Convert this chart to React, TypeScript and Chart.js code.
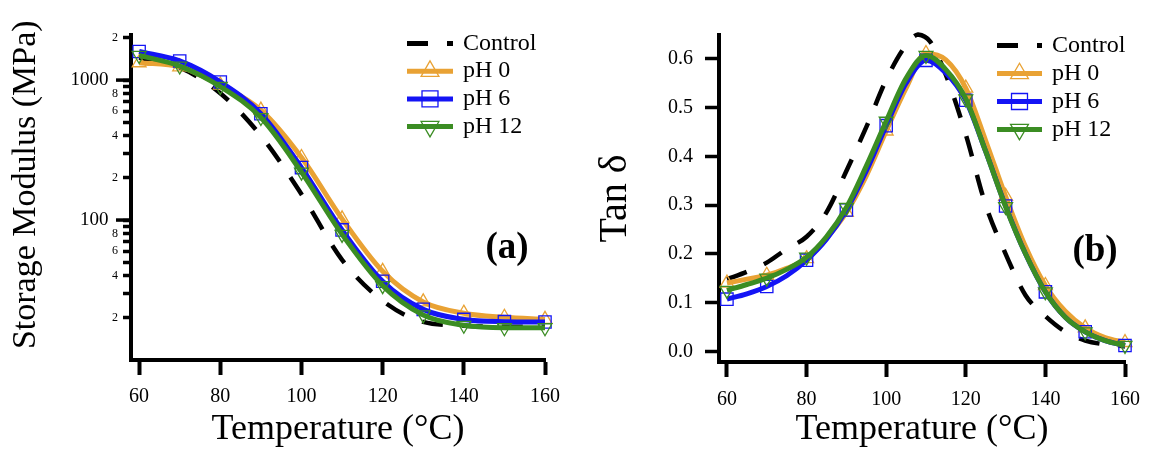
import React, { useEffect, useRef } from 'react';
import { Chart, registerables } from 'chart.js';

Chart.register(...registerables);

const FONT = "'Liberation Serif', 'Times New Roman', Times, serif";

const SERIES_NAMES = ['Control', 'pH 0', 'pH 6', 'pH 12'];
const COLOR_CONTROL = '#000000';
const COLOR_PH0 = '#E9A234';
const COLOR_PH6 = '#1414F5';
const COLOR_PH12 = '#3B8D23';

// ---- (a) Storage modulus ----
const TEMP_A = [60, 70, 80, 90, 100, 110, 120, 130, 140, 150, 160];
const MOD_CONTROL = [1450, 1230, 805, 400, 153, 52, 26.5, 18.7, 17.6, 17.3, 17.3];
const MOD_PH0 = [1330, 1245, 920, 610, 280, 102, 43, 26, 21.6, 20.2, 19.5];
const MOD_PH6 = [1600, 1370, 970, 575, 237, 85, 36.5, 23, 19.5, 18.8, 18.7];
const MOD_PH12 = [1500, 1260, 900, 540, 220, 79, 34, 21, 17.7, 17, 17];
const MOD_TICK_VALUES = [20, 30, 40, 50, 60, 70, 80, 90, 100, 200, 300, 400, 500, 600, 700, 800, 900, 1000, 2000];
const MOD_TICK_LABELS = ['2', '', '4', '', '6', '', '8', '', '100  ', '2', '', '4', '', '6', '', '8', '', '1000  ', '2'];
const MOD_MAJOR = [100, 1000];

// ---- (b) Tan delta ----
const TEMP_B = [60, 65, 70, 75, 80, 85, 90, 95, 100, 105, 110, 115, 120, 125, 130, 135, 140, 145, 150, 155, 160];
const TEMP_B_CONTROL = [60, 65, 70, 75, 80, 85, 90, 95, 100, 105, 108, 111, 115, 120, 125, 130, 135, 140, 145, 150, 155, 160];
const TAN_CONTROL = [0.148, 0.163, 0.182, 0.21, 0.235, 0.285, 0.37, 0.46, 0.557, 0.628, 0.65, 0.636, 0.567, 0.445, 0.3, 0.2, 0.115, 0.072, 0.04, 0.022, 0.014, 0.01];
const TAN_PH0 = [0.14, 0.148, 0.156, 0.17, 0.19, 0.232, 0.285, 0.36, 0.452, 0.54, 0.611, 0.598, 0.54, 0.432, 0.318, 0.215, 0.135, 0.082, 0.048, 0.028, 0.018];
const TAN_PH6 = [0.107, 0.118, 0.133, 0.155, 0.187, 0.23, 0.29, 0.37, 0.463, 0.55, 0.597, 0.571, 0.515, 0.41, 0.298, 0.2, 0.122, 0.07, 0.04, 0.022, 0.012];
const TAN_PH12 = [0.125, 0.137, 0.15, 0.168, 0.193, 0.235, 0.295, 0.38, 0.472, 0.56, 0.607, 0.578, 0.518, 0.41, 0.297, 0.2, 0.122, 0.07, 0.04, 0.022, 0.012];
const TAN_TICKS = [0, 0.1, 0.2, 0.3, 0.4, 0.5, 0.6];

const TEMP_TICKS = [60, 80, 100, 120, 140, 160];

const DASH = [21, 19];

type Marker = { style: string; rotation: number; radius: number } | null;

function drawMarker(ctx: CanvasRenderingContext2D, m: Marker, x: number, y: number, r: number, color: string) {
  if (!m) return;
  ctx.save();
  ctx.setLineDash([]);
  ctx.strokeStyle = color;
  ctx.lineWidth = 1.3;
  ctx.beginPath();
  if (m.style === 'rect') {
    const s = r * Math.SQRT1_2;
    ctx.rect(x - s, y - s, 2 * s, 2 * s);
  } else {
    let rad = (m.rotation * Math.PI) / 180;
    for (let k = 0; k < 3; k++) {
      const px = x + Math.sin(rad) * r;
      const py = y - Math.cos(rad) * r;
      if (k === 0) ctx.moveTo(px, py);
      else ctx.lineTo(px, py);
      rad += (2 * Math.PI) / 3;
    }
    ctx.closePath();
  }
  ctx.stroke();
  ctx.restore();
}

const MARKERS: Marker[] = [
  null,
  { style: 'triangle', rotation: 0, radius: 8 },
  { style: 'rect', rotation: 0, radius: 8.7 },
  { style: 'triangle', rotation: 180, radius: 8 },
];
const LEGEND_RADIUS = [0, 10.3, 11.3, 10.3];

const overlayPlugin = {
  id: 'overlay',
  afterDraw(chart: any, _args: any, opts: any) {
    const ctx: CanvasRenderingContext2D = chart.ctx;
    // legend
    const lg = opts.legend;
    if (lg) {
      chart.data.datasets.forEach((ds: any, i: number) => {
        const yy = lg.y + i * lg.dy;
        ctx.save();
        ctx.strokeStyle = ds.borderColor;
        ctx.lineWidth = 5;
        ctx.lineCap = 'butt';
        ctx.setLineDash(ds.borderDash || []);
        ctx.beginPath();
        ctx.moveTo(lg.x, yy);
        ctx.lineTo(lg.x + lg.len, yy);
        ctx.stroke();
        ctx.restore();
        drawMarker(ctx, MARKERS[i], lg.x + lg.len / 2, yy, LEGEND_RADIUS[i], ds.borderColor);
        ctx.save();
        ctx.fillStyle = '#000';
        ctx.font = `24px ${FONT}`;
        ctx.textBaseline = 'middle';
        ctx.textAlign = 'left';
        ctx.fillText(ds.label, lg.x + lg.len + lg.gap, yy);
        ctx.restore();
      });
    }
    // panel label
    const pl = opts.panel;
    if (pl) {
      ctx.save();
      ctx.fillStyle = '#000';
      ctx.font = `bold 37px ${FONT}`;
      ctx.textAlign = 'center';
      ctx.textBaseline = 'middle';
      ctx.fillText(pl.text, pl.x, pl.y);
      ctx.restore();
    }
    // major tick extensions
    if (opts.majorTicks) {
      const ys = chart.scales.y;
      const left = chart.chartArea.left;
      ctx.save();
      ctx.strokeStyle = '#000';
      ctx.lineWidth = 3.5;
      opts.majorTicks.forEach((v: number) => {
        const py = ys.getPixelForValue(v);
        ctx.beginPath();
        ctx.moveTo(left - 15, py);
        ctx.lineTo(left - 2, py);
        ctx.stroke();
      });
      ctx.restore();
    }
  },
};

function makeDataset(i: number, temps: number[], vals: number[]) {
  const colors = [COLOR_CONTROL, COLOR_PH0, COLOR_PH6, COLOR_PH12];
  const m = MARKERS[i];
  return {
    label: SERIES_NAMES[i],
    data: temps.map((t, k) => ({ x: t, y: vals[k] })),
    borderColor: colors[i],
    backgroundColor: colors[i],
    borderWidth: i === 0 ? 4.5 : 5,
    borderDash: i === 0 ? DASH : [],
    borderCapStyle: 'butt',
    cubicInterpolationMode: 'monotone',
    fill: false,
    clip: false,
    order: 4 - i,
    pointStyle: m ? m.style : 'circle',
    pointRotation: m ? m.rotation : 0,
    pointRadius: (c: any) => (m && c.raw && c.raw.x % 10 === 0 ? m.radius : 0),
    pointHoverRadius: 0,
    pointBorderWidth: 1.3,
    pointBorderColor: colors[i],
    pointBackgroundColor: 'rgba(0,0,0,0)',
  };
}

function xScale(height: number, pad: number) {
  return {
    type: 'linear',
    min: 58,
    max: 160,
    afterBuildTicks: (s: any) => {
      s.ticks = TEMP_TICKS.map((v) => ({ value: v }));
    },
    afterFit: (s: any) => {
      s.height = height;
    },
    border: { display: true, color: '#000', width: 4 },
    grid: { display: true, drawOnChartArea: false, drawTicks: true, tickLength: 15, tickWidth: 4, tickColor: '#000' },
    ticks: { color: '#000', padding: pad, autoSkip: false, maxRotation: 0, font: { family: FONT, size: 20 } },
    title: {
      display: true,
      text: 'Temperature (°C)',
      color: '#000',
      font: { family: FONT, size: 36, lineHeight: 1 },
      padding: { top: 0, bottom: 1 },
    },
  };
}

function configA(): any {
  return {
    type: 'line',
    data: {
      datasets: [
        makeDataset(0, TEMP_A, MOD_CONTROL),
        makeDataset(1, TEMP_A, MOD_PH0),
        makeDataset(2, TEMP_A, MOD_PH6),
        makeDataset(3, TEMP_A, MOD_PH12),
      ],
    },
    options: {
      responsive: false,
      maintainAspectRatio: false,
      animation: false,
      devicePixelRatio: 1,
      events: [],
      layout: { padding: { left: 0, top: 35, right: 35, bottom: 0 } },
      plugins: {
        legend: { display: false },
        tooltip: { enabled: false },
        overlay: {
          legend: { x: 407, y: 43.5, dy: 27.7, len: 46, gap: 10 },
          panel: { text: '(a)', x: 507, y: 248 },
          majorTicks: MOD_MAJOR,
        },
      },
      scales: {
        x: xScale(89, 10),
        y: {
          type: 'logarithmic',
          min: 10,
          max: 2100,
          afterBuildTicks: (s: any) => {
            s.ticks = MOD_TICK_VALUES.map((v) => ({ value: v }));
          },
          afterFit: (s: any) => {
            s.width = 131;
          },
          border: { display: true, color: '#000', width: 4 },
          grid: { display: true, drawOnChartArea: false, drawTicks: true, tickLength: 8, tickWidth: 3.5, tickColor: '#000' },
          ticks: {
            color: '#000',
            padding: 5,
            autoSkip: false,
            callback: (_v: any, i: number) => MOD_TICK_LABELS[i],
            font: (c: any) => ({
              family: FONT,
              size: c.tick && MOD_MAJOR.includes(c.tick.value) ? 19 : 12,
            }),
          },
          title: {
            display: true,
            text: '   Storage Modulus (MPa)',
            color: '#000',
            font: { family: FONT, size: 34, lineHeight: 1 },
            padding: { top: 9, bottom: 0 },
          },
        },
      },
    },
    plugins: [overlayPlugin],
  };
}

function configB(): any {
  return {
    type: 'line',
    data: {
      datasets: [
        makeDataset(0, TEMP_B_CONTROL, TAN_CONTROL),
        makeDataset(1, TEMP_B, TAN_PH0),
        makeDataset(2, TEMP_B, TAN_PH6),
        makeDataset(3, TEMP_B, TAN_PH12),
      ],
    },
    options: {
      responsive: false,
      maintainAspectRatio: false,
      animation: false,
      devicePixelRatio: 1,
      events: [],
      layout: { padding: { left: 0, top: 35, right: 18, bottom: 0 } },
      plugins: {
        legend: { display: false },
        tooltip: { enabled: false },
        overlay: {
          legend: { x: 417, y: 45.5, dy: 28, len: 45, gap: 10 },
          panel: { text: '(b)', x: 515, y: 251 },
        },
      },
      scales: {
        x: xScale(87, 11),
        y: {
          type: 'linear',
          min: -0.022,
          max: 0.649,
          afterBuildTicks: (s: any) => {
            s.ticks = TAN_TICKS.map((v) => ({ value: v }));
          },
          afterFit: (s: any) => {
            s.width = 139;
          },
          border: { display: true, color: '#000', width: 4 },
          grid: { display: true, drawOnChartArea: false, drawTicks: true, tickLength: 14, tickWidth: 3.5, tickColor: '#000' },
          ticks: {
            color: '#000',
            padding: 12,
            autoSkip: false,
            callback: (v: any) => Number(v).toFixed(1),
            font: { family: FONT, size: 20 },
          },
          title: {
            display: true,
            text: 'Tan δ',
            color: '#000',
            font: { family: FONT, size: 40, lineHeight: 1 },
            padding: { top: 15, bottom: 0 },
          },
        },
      },
    },
    plugins: [overlayPlugin],
  };
}

function ChartCanvas({ left, width, config }: { left: number; width: number; config: () => any }) {
  const ref = useRef<HTMLCanvasElement | null>(null);
  useEffect(() => {
    if (!ref.current) return;
    const chart = new Chart(ref.current, config());
    return () => chart.destroy();
  }, [config]);
  return (
    <canvas
      ref={ref}
      width={width}
      height={449}
      style={{ position: 'absolute', left, top: 0, width, height: 449, display: 'block' }}
    />
  );
}

export default function App() {
  return (
    <div style={{ position: 'fixed', left: 0, top: 0, width: 1151, height: 449, background: '#fff', overflow: 'hidden' }}>
      <ChartCanvas left={0} width={580} config={configA} />
      <ChartCanvas left={580} width={571} config={configB} />
    </div>
  );
}
